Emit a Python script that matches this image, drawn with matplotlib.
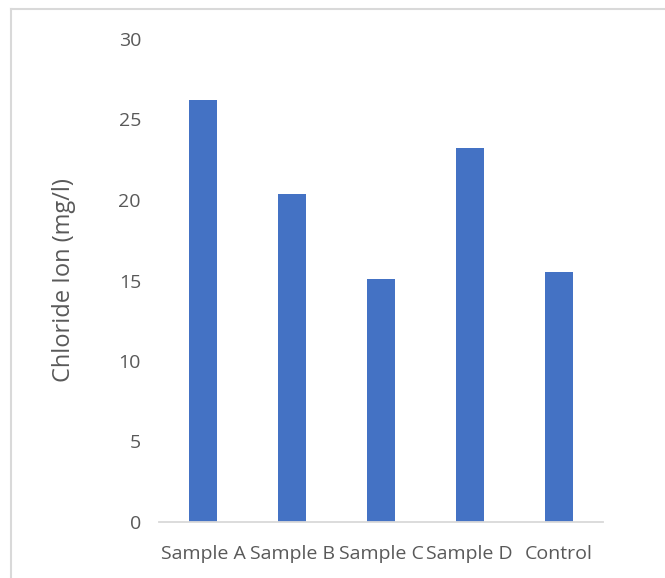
import matplotlib
matplotlib.use("Agg")
import matplotlib.pyplot as plt
from matplotlib.lines import Line2D

categories = ["Sample A", "Sample B", "Sample C", "Sample D", "Control"]
chloride = [26.2, 20.4, 15.1, 23.2, 15.5]
y_ticks = [0, 5, 10, 15, 20, 25, 30]

W, H = 665, 578
fig = plt.figure(figsize=(W / 100, H / 100), dpi=100)
plt.rcParams["font.family"] = ["Open Sans", "DejaVu Sans"]
text_color = "#595959"

ax = fig.add_axes([159 / W, 56 / H, (603 - 159) / W, (539 - 56) / H])
x = range(len(categories))
ax.bar(x, chloride, width=0.315, color="#4472C4", zorder=2)
ax.set_xlim(-0.5, len(categories) - 0.5)
ax.set_ylim(0, 30)
ax.set_yticks(y_ticks)
ax.set_yticklabels([str(t) for t in y_ticks])
ax.set_xticks(list(x))
ax.set_xticklabels(categories)

for s in ["top", "right", "left"]:
    ax.spines[s].set_visible(False)
ax.spines["bottom"].set_color("#d9d9d9")
ax.spines["bottom"].set_linewidth(1.3)
ax.tick_params(axis="both", length=0, labelsize=14, colors=text_color)
ax.tick_params(axis="y", pad=13)
ax.tick_params(axis="x", pad=16.5)

# y-axis title
fig.text(63.5 / W, 1 - 280 / H, "Chloride Ion (mg/l)", rotation=90,
         ha="center", va="center", fontsize=17, color=text_color)

# chart-area frame
fig.add_artist(Line2D([11 / W, 11 / W], [0, 1 - 9 / H], transform=fig.transFigure,
                      color="#d9d9d9", lw=1.5))
fig.add_artist(Line2D([11 / W, 1], [1 - 9 / H, 1 - 9 / H], transform=fig.transFigure,
                      color="#d9d9d9", lw=1.5))

fig.savefig("out.png", dpi=100)
